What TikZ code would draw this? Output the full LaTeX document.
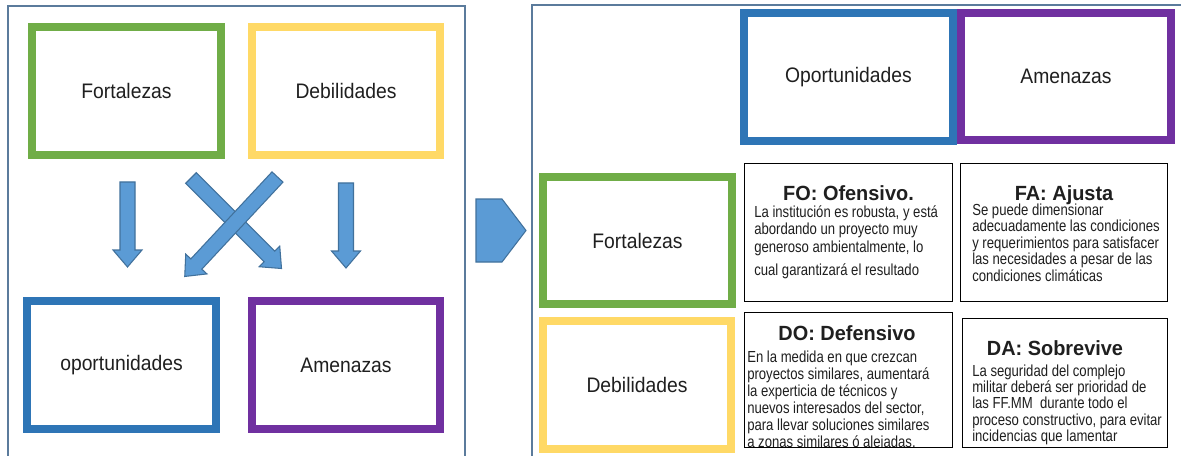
\documentclass[tikz,border=0pt]{standalone}
\usepackage{fontspec}
\setmainfont{Liberation Sans}[FakeStretch=0.92]
\newfontfamily\narrowfont{Liberation Sans}[FakeStretch=0.82]
\newfontfamily\headfont{Liberation Sans}[FakeStretch=0.97]
\usetikzlibrary{calc}
\definecolor{cgreen}{HTML}{70AD47}
\definecolor{cyellow}{HTML}{FFD966}
\definecolor{cblue}{HTML}{2E75B6}
\definecolor{cpurple}{HTML}{7030A0}
\definecolor{afill}{HTML}{5B9BD5}
\definecolor{aline}{HTML}{41719C}
\definecolor{framecol}{HTML}{5B7B9C}
\definecolor{ink}{HTML}{1F1F1F}
\newcommand\blockarrow[3]{%
  \draw[arrowsty, shift={(#1)}, rotate=#2]
    (0,-7.5) -- ({#3-17},-7.5) -- ({#3-17},-14.5) -- (#3,0)
    -- ({#3-17},14.5) -- ({#3-17},7.5) -- (0,7.5) -- cycle;}
\begin{document}
\begin{tikzpicture}[x=0.75pt,y=-0.75pt,
  swot/.style={draw=#1, line width=6pt, fill=white, inner sep=0pt, text=ink,
    font=\fontsize{15.75}{18}\selectfont},
  strat/.style={fill=white, inner sep=0pt},
  stratline/.style={draw=black, line width=1.1pt},
  framesty/.style={draw=framecol, line width=1.2pt},
  arrowsty/.style={fill=afill, draw=aline, line width=0.8pt, line join=miter},
  headsty/.style={anchor=base, inner sep=0pt, text=ink,
    font=\headfont\bfseries\fontsize{15.4}{18}\selectfont},
  bodysty/.style={anchor=base west, inner sep=0pt, text=ink,
    font=\narrowfont\fontsize{12}{12.75}\selectfont}]
\useasboundingbox (0,0) rectangle (1181,456);
\fill[white] (0,0) rectangle (1181,456);

% panel frames
\draw[framesty] (8,470) -- (8,6) -- (465,6) -- (465,470);
\draw[framesty] (532,470) -- (532,5) -- (1190,5);

% left panel boxes
\node[swot=cgreen, minimum width=141.75pt, minimum height=96pt] (F) at (126.5,91) {Fortalezas};
\node[swot=cyellow, minimum width=141pt, minimum height=96pt] (D) at (346,91) {Debilidades};
\node[swot=cblue, minimum width=141.75pt, minimum height=96pt] (O) at (121.5,365) {oportunidades};
\node[swot=cpurple, minimum width=141pt, minimum height=96pt] (A) at (346,365) {Amenazas};

% block arrows
\coordinate (a1) at (127.5,182);
\coordinate (a2) at (346,183);
\coordinate (a3) at (191,178);
\coordinate (a4) at (277.5,177);
\blockarrow{a1}{-90}{85}
\blockarrow{a2}{-90}{85}
\blockarrow{a3}{-45}{128}
\blockarrow{a4}{-133}{136}

% pentagon arrow between panels
\draw[arrowsty] (476,199) -- (502,199) -- (526,230.5) -- (502,262) -- (476,262) -- cycle;

% right panel header boxes
\node[swot=cblue, minimum width=156.75pt, minimum height=96pt] (Ot) at (848.5,77) {Oportunidades};
\node[swot=cpurple, minimum width=157.5pt, minimum height=95.25pt] (At) at (1066,76.5) {Amenazas};
\node[swot=cgreen, minimum width=141.75pt, minimum height=95.25pt] (Fr) at (637.5,240.5) {Fortalezas};
\node[swot=cyellow, minimum width=141pt, minimum height=96pt] (Dr) at (637,385) {Debilidades};

% strategy boxes (fill)
\node[strat, minimum width=155.6pt, minimum height=103.1pt] (FO) at (848.5,232.5) {};
\node[strat, minimum width=154.9pt, minimum height=103.1pt] (FA) at (1064,232.5) {};
\node[strat, minimum width=155.6pt, minimum height=100.9pt] (DO) at (848.5,380) {};
\node[strat, minimum width=153.4pt, minimum height=96.4pt] (DA) at (1065,383) {};

% FO
\node[headsty] (FOh) at (848.5,200.7) {FO: Ofensivo.};
\node[bodysty] (FOb) at (754,218) {\begin{tabular}[t]{@{}l@{}}La institución es robusta, y está\\
abordando un proyecto muy\\ generoso ambientalmente, lo\\[5.25pt] cual garantizará el resultado\end{tabular}};
% FA
\node[headsty] (FAh) at (1064,200) {FA: Ajusta};
\node[bodysty, font=\narrowfont\fontsize{12}{12}\selectfont] (FAb) at (972,215.5) {\begin{tabular}[t]{@{}l@{}}Se puede dimensionar\\
adecuadamente las condiciones\\ y requerimientos para satisfacer\\ las necesidades a pesar de las\\ condiciones climáticas\end{tabular}};
% DO
\node[headsty] (DOh) at (847,340) {DO: Defensivo};
\begin{scope}
\clip (DO.north west) rectangle (DO.south east);
\node[bodysty] (DOb) at (747,362) {\begin{tabular}[t]{@{}l@{}}En la medida en que crezcan\\
proyectos similares, aumentará\\ la experticia de técnicos y\\ nuevos interesados del sector,\\ para llevar soluciones similares\\ a zonas similares ó alejadas.\end{tabular}};
\end{scope}
% DA
\node[headsty] (DAh) at (1055,355) {DA: Sobrevive};
\node[bodysty, font=\narrowfont\fontsize{12}{12}\selectfont] (DAb) at (972,376) {\begin{tabular}[t]{@{}l@{}}La seguridad del complejo\\
militar deberá ser prioridad de\\ las FF.MM\ \ durante todo el\\ proceso constructivo, para evitar\\ incidencias que lamentar\end{tabular}};

% strategy box borders on top
\draw[stratline] (FO.north west) rectangle (FO.south east);
\draw[stratline] (FA.north west) rectangle (FA.south east);
\draw[stratline] (DO.north west) rectangle (DO.south east);
\draw[stratline] (DA.north west) rectangle (DA.south east);
\end{tikzpicture}
\end{document}
